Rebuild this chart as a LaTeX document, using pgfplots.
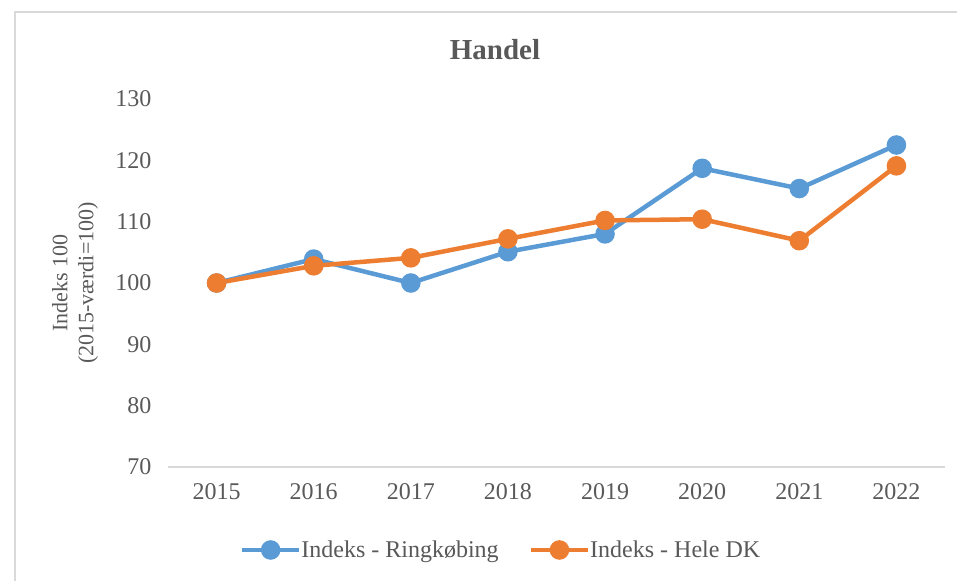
\documentclass[border=0pt]{standalone}
\usepackage{pgfplots}
\pgfplotsset{compat=1.18}
\usepackage{fontspec}
\setmainfont{Liberation Serif}

\definecolor{ringblue}{HTML}{5B9BD5}
\definecolor{dkorange}{HTML}{ED7D31}
\definecolor{txtgray}{HTML}{595959}
\definecolor{linegray}{HTML}{D9D9D9}

\begin{document}
\begin{tikzpicture}
\useasboundingbox (0,0) rectangle (957pt,581pt);
% chart frame (only top and left edges are visible in the crop)
\draw[linegray, line width=1.5pt] (15pt,0pt) -- (15pt,569pt) -- (957pt,569pt);
\begin{axis}[
    at={(168pt,114pt)}, anchor=south west,
    scale only axis, width=777pt, height=368pt,
    xmin=2014.5, xmax=2022.5, ymin=70, ymax=130,
    xtick={2015,2016,...,2022}, ytick={70,80,...,130},
    axis x line*=bottom, axis y line*=left,
    x axis line style={draw=linegray, line width=1.5pt, -},
    y axis line style={draw=none},
    major tick length=0pt,
    /pgf/number format/assume math mode=true,
    x tick label style={/pgf/number format/1000 sep={}, yshift=-13pt},
    y tick label style={xshift=-13pt},
    tick label style={font=\fontsize{24}{28}\selectfont, text=txtgray},
    title={\textbf{Handel}},
    title style={at={(axis description cs:0.4208,1.117)}, anchor=center,
        font=\fontsize{29}{34}\selectfont, text=txtgray},
    ylabel={Indeks 100\\(2015-værdi=100)},
    ylabel style={at={(axis description cs:-0.1197,0.5)}, anchor=center,
        align=center, font=\fontsize{22}{26}\selectfont, text=txtgray},
    legend columns=2,
    legend style={draw=none, at={(0.4286,-0.2255)}, anchor=center,
        font=\fontsize{24}{28}\selectfont, text=txtgray,
        /tikz/every odd column/.append style={column sep=-2pt},
        /tikz/every even column/.append style={column sep=28pt}},
    legend cell align=left,
    legend image code/.code={
        \draw[mark repeat=2, mark phase=2]
        plot coordinates {(0pt,0pt) (28.5pt,0pt) (57pt,0pt)};},
    clip=false,
]
\addplot[ringblue, line width=4.5pt, mark=*, mark size=7.5pt, mark options={solid}]
    coordinates {(2015,100.0) (2016,103.9) (2017,100.0) (2018,105.1)
                 (2019,108.0) (2020,118.7) (2021,115.4) (2022,122.5)};
\addlegendentry{Indeks - Ringkøbing}
\addplot[dkorange, line width=4.5pt, mark=*, mark size=7.5pt, mark options={solid}]
    coordinates {(2015,100.0) (2016,102.8) (2017,104.1) (2018,107.2)
                 (2019,110.2) (2020,110.4) (2021,106.9) (2022,119.1)};
\addlegendentry{Indeks - Hele DK}
\end{axis}
\end{tikzpicture}
\end{document}
